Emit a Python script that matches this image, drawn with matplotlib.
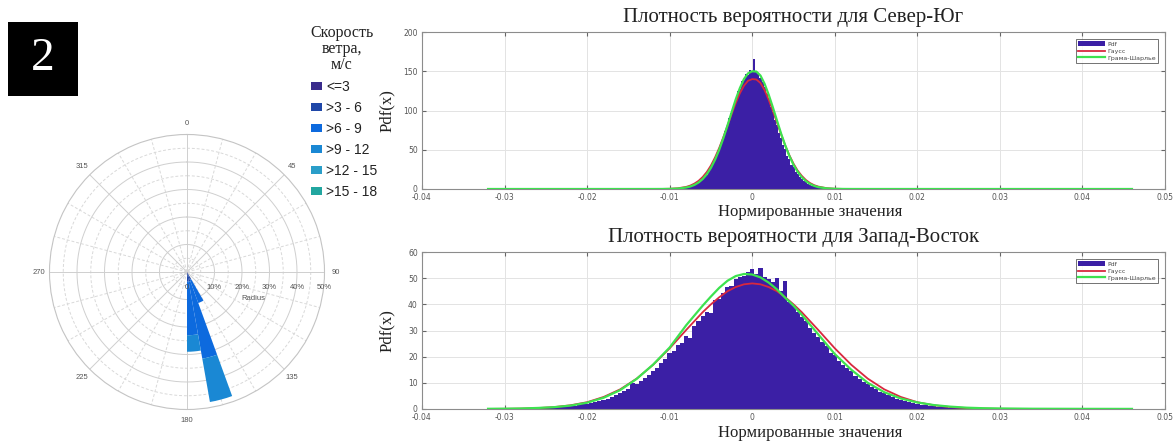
import numpy as np
import matplotlib.pyplot as plt
from matplotlib.patches import Patch, Rectangle

SERIF = ['Liberation Serif', 'DejaVu Serif']
SANS = ['Liberation Sans', 'DejaVu Sans']

# --- роза ветров: центры секторов (град) и доля каждого класса скорости, %
rose_dirs = [155, 165, 175]
rose_width = 10
speed_labels = ['<=3', '>3 - 6', '>6 - 9', '>9 - 12', '>12 - 15', '>15 - 18']
speed_colors = ['#3a2c8c', '#1f47a8', '#0d6ade', '#1a88d4', '#2a9ec9', '#22a6a0']
freq_le3 = [0.5, 0.5, 0.5]
freq_3_6 = [2.5, 3.0, 3.0]
freq_6_9 = [9.0, 28.5, 19.5]
freq_9_12 = [0.0, 16.0, 6.0]
freq_12_15 = [0.0, 0.0, 0.0]
freq_15_18 = [0.0, 0.0, 0.0]

# --- Север-Юг: гистограмма (шаг 0.00025) и аппроксимации
ns_hist_start = -0.0100
ns_hist_step = 0.00025
ns_hist = [0.3, 0.5, 0.4, 0.8, 0.7, 1.1, 1.0, 1.8, 2.0, 2.9, 3.3, 4.6, 5.0, 6.9, 8.0, 10.8,
           12.2, 15.9, 18.4, 23.1, 26.5, 32.4, 36.8, 44.0, 49.2, 58.1, 63.5, 74.0, 79.6, 90.5,
           96.2, 107.8, 113.0, 124.5, 127.0, 137.5, 139.0, 146.0, 145.5, 152.0, 149.0, 166.0,
           150.5, 146.5, 141.0, 136.0, 129.5, 121.0, 116.0, 104.5, 98.0, 88.0, 81.5, 71.5,
           65.0, 56.0, 50.5, 42.5, 38.0, 31.0, 27.5, 22.0, 19.0, 15.0, 13.0, 10.0, 8.5, 6.3,
           5.4, 4.0, 3.3, 2.4, 2.0, 1.4, 1.1, 0.8, 0.6, 0.5, 0.3, 0.2, 0.15]
ns_curve_x = [-0.032, -0.020, -0.014, -0.012, -0.011, -0.010, -0.009, -0.008, -0.0075,
              -0.007, -0.0065, -0.006, -0.0055, -0.005, -0.0045, -0.004, -0.0035, -0.003,
              -0.0025, -0.002, -0.0015, -0.001, -0.0005, 0.0, 0.0005, 0.001, 0.0015, 0.002,
              0.0025, 0.003, 0.0035, 0.004, 0.0045, 0.005, 0.0055, 0.006, 0.0065, 0.007,
              0.0075, 0.008, 0.009, 0.010, 0.011, 0.012, 0.014, 0.020, 0.030, 0.046]
ns_gauss = [0.0, 0.0, 0.01, 0.02, 0.08, 0.3, 0.95, 2.7, 4.4, 6.9, 10.4, 15.3, 21.7, 30.0,
            40.3, 52.3, 65.9, 80.4, 95.3, 109.4, 121.9, 131.6, 137.9, 140.0, 139.5, 135.0,
            126.0, 113.5, 99.5, 84.5, 69.5, 55.5, 43.0, 32.3, 23.5, 16.8, 11.5, 7.6, 4.9,
            3.1, 1.1, 0.35, 0.1, 0.03, 0.01, 0.0, 0.0, 0.0]
ns_gc = [0.0, 0.0, 0.01, 0.02, 0.05, 0.15, 0.58, 1.9, 3.2, 5.2, 8.3, 12.7, 18.8, 27.0,
         37.4, 50.0, 64.7, 80.9, 97.6, 114.1, 128.5, 140.1, 147.4, 150.0, 149.6, 144.5,
         134.0, 120.0, 104.0, 87.2, 70.5, 55.5, 42.0, 30.8, 22.0, 15.0, 10.0, 6.4, 4.0,
         2.4, 0.8, 0.25, 0.08, 0.03, 0.01, 0.0, 0.0, 0.0]

# --- Запад-Восток: гистограмма (шаг 0.0005) и аппроксимации
we_hist_start = -0.0290
we_hist_step = 0.0005
we_hist = [0.15, 0.2, 0.2, 0.25, 0.3, 0.3, 0.35, 0.4, 0.5, 0.55, 0.6, 0.75, 0.85, 1.0, 1.1,
           1.3, 1.5, 1.8, 2.0, 2.3, 2.6, 3.1, 3.5, 4.0, 4.6, 5.4, 6.1, 7.0, 7.6, 9.8, 9.5,
           10.6, 11.8, 13.0, 14.6, 15.5, 17.5, 19.0, 21.5, 22.0, 24.5, 25.3, 28.0, 27.0,
           31.8, 33.5, 35.5, 37.0, 36.5, 41.5, 42.0, 44.5, 46.5, 47.0, 49.5, 50.5, 51.0,
           52.5, 53.5, 51.5, 54.0, 50.5, 49.5, 48.5, 50.0, 45.0, 49.0, 41.0, 39.5, 37.0,
           35.0, 33.5, 31.0, 29.0, 27.5, 25.5, 24.0, 21.5, 20.5, 18.5, 17.0, 15.5, 14.5,
           12.5, 11.5, 10.5, 9.5, 8.5, 7.5, 6.5, 6.0, 5.2, 4.6, 4.0, 3.5, 3.0, 2.6, 2.2,
           1.9, 1.6, 1.4, 1.2, 1.0, 0.85, 0.7, 0.6, 0.5, 0.4, 0.35, 0.3, 0.25, 0.2, 0.2,
           0.15, 0.1, 0.1, 0.1]
we_curve_x = [-0.032, -0.030, -0.028, -0.026, -0.024, -0.022, -0.020, -0.018, -0.016,
              -0.014, -0.012, -0.010, -0.008, -0.006, -0.005, -0.004, -0.003, -0.002,
              -0.001, 0.0, 0.001, 0.002, 0.003, 0.004, 0.005, 0.006, 0.008, 0.010, 0.012,
              0.014, 0.016, 0.018, 0.020, 0.022, 0.024, 0.026, 0.028, 0.030, 0.034, 0.040,
              0.046]
we_gauss = [0.03, 0.07, 0.16, 0.35, 0.73, 1.43, 2.6, 4.6, 7.5, 11.6, 16.9, 23.2, 30.2,
            37.0, 40.0, 42.7, 45.0, 46.6, 47.65, 48.0, 47.65, 46.6, 45.0, 42.7, 40.0, 37.0,
            30.2, 23.2, 16.9, 11.6, 7.5, 4.6, 2.6, 1.43, 0.73, 0.35, 0.16, 0.07, 0.02, 0.0,
            0.0]
we_gc = [0.08, 0.12, 0.2, 0.4, 0.7, 1.3, 2.4, 4.3, 7.2, 11.5, 17.0, 23.5, 32.0, 39.5, 43.0,
         46.3, 49.0, 50.8, 51.6, 51.4, 50.3, 48.3, 45.7, 42.5, 39.5, 36.0, 28.5, 21.0, 15.0,
         10.0, 6.4, 4.0, 2.5, 1.5, 0.9, 0.5, 0.3, 0.2, 0.1, 0.06, 0.04]

HIST_COLOR = '#3b1fa5'
GAUSS_COLOR = '#d8283f'
GC_COLOR = '#3de24f'

W, H = 1175, 443
fig = plt.figure(figsize=(W / 100, H / 100), dpi=100)


def px_box(left, top, right, bottom):
    return [left / W, 1 - bottom / H, (right - left) / W, (bottom - top) / H]


# номер панели
fig.patches.append(Rectangle((8 / W, 1 - 96 / H), 70 / W, 74 / H,
                             transform=fig.transFigure, facecolor='black', zorder=0))
fig.text(43 / W, 1 - 59 / H, '2', color='white', fontsize=34, family=SERIF,
         ha='center', va='center')

# ---------- роза ветров ----------
R = 137.5
cx, cy = 187, 272
pax = fig.add_axes(px_box(cx - R, cy - R, cx + R, cy + R), projection='polar')
pax.set_theta_zero_location('N')
pax.set_theta_direction(-1)
pax.set_ylim(0, 50)
pax.grid(False)
pax.set_xticks([])
pax.set_yticks([])
pax.spines['polar'].set_color('#c4c4c4')
pax.spines['polar'].set_linewidth(0.8)

ring_t = np.linspace(0, 2 * np.pi, 361)
for r in [5, 10, 15, 20, 25, 30, 35, 40, 45]:
    solid = r % 10 == 0
    pax.plot(ring_t, np.full_like(ring_t, r), color='#cfcfcf' if solid else '#d9d9d9',
             lw=0.7, ls='-' if solid else (0, (3, 2)), zorder=1)
for a in range(0, 360, 15):
    solid = a % 45 == 0
    pax.plot([np.radians(a)] * 2, [0, 50], color='#cfcfcf' if solid else '#d9d9d9',
             lw=0.7, ls='-' if solid else (0, (3, 2)), zorder=1)

rose_theta = np.radians(rose_dirs)
rose_stack = [freq_le3, freq_3_6, freq_6_9, freq_9_12, freq_12_15, freq_15_18]
base = np.zeros(len(rose_dirs))
for vals, col in zip(rose_stack, speed_colors):
    vals = np.asarray(vals)
    pax.bar(rose_theta, vals, width=np.radians(rose_width), bottom=base, color=col,
            edgecolor='none', linewidth=0, align='center', zorder=3)
    base = base + vals

for a in range(0, 360, 45):
    pax.text(np.radians(a), 54, str(a), fontsize=5.5, color='#555555', family=SANS,
             ha='center', va='center', clip_on=False)
for r in [0, 10, 20, 30, 40, 50]:
    pax.annotate('0' if r == 0 else f'{r}%', (np.pi / 2, r), xytext=(0, -11),
                 textcoords='offset points', fontsize=5.5, color='#555555', family=SANS,
                 ha='center', va='center', annotation_clip=False)
pax.annotate('Radius', (np.pi / 2, 24), xytext=(0, -19), textcoords='offset points',
             fontsize=5.5, color='#555555', family=SANS, ha='center', va='center',
             annotation_clip=False)

# легенда скоростей
fig.text(342 / W, 1 - 25 / H, 'Скорость\nветра,\nм/с', family=SERIF, fontsize=11.5,
         ha='center', va='top', linespacing=1.0, color='#222222')
handles = [Patch(facecolor=c, edgecolor='none') for c in speed_colors]
fig.legend(handles, speed_labels, loc='upper left', bbox_to_anchor=(304 / W, 1 - 73 / H),
           frameon=False, prop={'family': SANS, 'size': 10}, handlelength=0.8,
           handleheight=0.5, handletextpad=0.3, labelspacing=0.5, borderpad=0,
           labelcolor='#222222')


# ---------- плотности вероятности ----------
def pdf_panel(box, title, start, step, heights, cx_, gauss, gc, ymax, ystep, xlab_dy):
    ax = fig.add_axes(box)
    centers = start + step * np.arange(len(heights))
    bars = ax.bar(centers, heights, width=step * 1.05, color=HIST_COLOR, linewidth=0,
                  zorder=2)
    g_line, = ax.plot(cx_, gauss, color=GAUSS_COLOR, lw=1.3, zorder=3)
    gc_line, = ax.plot(cx_, gc, color=GC_COLOR, lw=1.6, zorder=4)
    ax.set_xlim(-0.04, 0.05)
    ax.set_ylim(0, ymax)
    ax.set_xticks(np.arange(-0.04, 0.0501, 0.01))
    ax.set_xticklabels(['-0.04', '-0.03', '-0.02', '-0.01', '0', '0.01', '0.02', '0.03',
                        '0.04', '0.05'])
    ax.set_yticks(np.arange(0, ymax + 1, ystep))
    ax.grid(True, color='#e3e3e3', lw=0.7, zorder=0)
    ax.set_axisbelow(True)
    ax.tick_params(direction='in', top=True, right=True, length=3, width=0.8,
                   color='#666666', labelsize=5.5, labelcolor='#555555', pad=3)
    for s in ax.spines.values():
        s.set_color('#8c8c8c')
        s.set_linewidth(0.8)
    ax.set_title(title, family=SERIF, fontsize=15, pad=7, color='#222222')
    ax.set_ylabel('Pdf(x)', family=SERIF, fontsize=12, color='#222222')
    ax.yaxis.set_label_coords(-0.036, 0.5)
    ax.set_xlabel('Нормированные значения', family=SERIF, fontsize=12, color='#222222')
    ax.xaxis.set_label_coords(0.522, xlab_dy)
    leg = ax.legend([bars, g_line, gc_line], ['Pdf', 'Гаусс', 'Грама-Шарлье'],
                    loc='upper right', fontsize=4.5, frameon=True, fancybox=False,
                    handlelength=4.2, handletextpad=0.4, borderaxespad=1.1,
                    labelspacing=0.25, borderpad=0.4)
    leg.get_frame().set_edgecolor('#333333')
    leg.get_frame().set_linewidth(0.6)
    for t in leg.get_texts():
        t.set_color('#444444')
    return ax


pdf_panel(px_box(422, 32, 1165, 189), 'Плотность вероятности для Север-Юг',
          ns_hist_start, ns_hist_step, ns_hist, ns_curve_x, ns_gauss, ns_gc, 200, 50, -0.095)
pdf_panel(px_box(422, 252, 1165, 409), 'Плотность вероятности для Запад-Восток',
          we_hist_start, we_hist_step, we_hist, we_curve_x, we_gauss, we_gc, 60, 10, -0.105)

fig.savefig('out.png', dpi=100, facecolor='white')
